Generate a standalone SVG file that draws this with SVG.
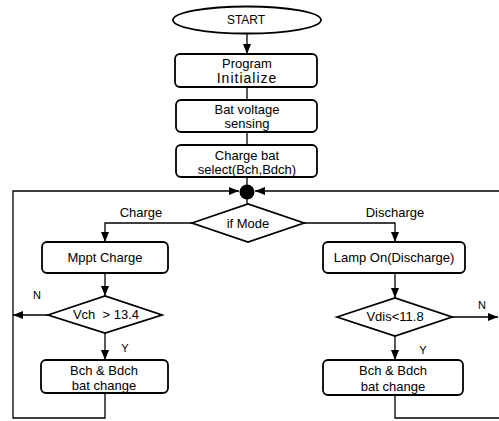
<svg xmlns="http://www.w3.org/2000/svg" width="499" height="421" viewBox="0 0 499 421">
<defs>
<marker id="arr" markerUnits="userSpaceOnUse" markerWidth="10" markerHeight="10" viewBox="0 0 10 10" refX="10" refY="5" orient="auto">
<path d="M0,1 L10,5 L0,9 Z" fill="#000"/>
</marker>
</defs>
<style>
.shape{fill:#fff;stroke:#000;stroke-width:1.8}
.ln{fill:none;stroke:#000;stroke-width:1.3}
text{font-family:"Liberation Sans",Arial,sans-serif;font-size:13px;fill:#000;text-anchor:middle}
.big{font-size:14px;letter-spacing:1px}
.sm{font-size:12px}
.lbl{font-size:11px}
</style>
<rect width="499" height="421" fill="#fff"/>
<g id="connectors">
<line class="ln" x1="247" y1="34" x2="247" y2="54" marker-end="url(#arr)"/>
<line class="ln" x1="247" y1="87" x2="247" y2="100"/>
<line class="ln" x1="247" y1="132" x2="247" y2="145"/>
<line class="ln" x1="247" y1="177" x2="247" y2="204"/>
<path class="ln" d="M192,223 H105 V242" marker-end="url(#arr)"/>
<line class="ln" x1="105" y1="273" x2="105" y2="296" marker-end="url(#arr)"/>
<line class="ln" x1="105" y1="333" x2="105" y2="360" marker-end="url(#arr)"/>
<line class="ln" x1="48" y1="315" x2="13" y2="315" marker-end="url(#arr)"/>
<path class="ln" d="M105,393 V418 H13 V191 H239" marker-end="url(#arr)"/>
<path class="ln" d="M499,191 H255" marker-end="url(#arr)"/>
<path class="ln" d="M304,223 H395 V242" marker-end="url(#arr)"/>
<line class="ln" x1="395" y1="273" x2="395" y2="298" marker-end="url(#arr)"/>
<line class="ln" x1="395" y1="336" x2="395" y2="360" marker-end="url(#arr)"/>
<line class="ln" x1="452" y1="317" x2="498" y2="317" marker-end="url(#arr)"/>
<path class="ln" d="M395,395 V418 H499"/>
<text x="141" y="217">Charge</text>
<text x="395" y="217">Discharge</text>
<text class="lbl" x="37" y="299">N</text>
<text class="lbl" x="125" y="352">Y</text>
<text class="lbl" x="482" y="309">N</text>
<text class="lbl" x="423" y="354">Y</text>
</g>
<g id="start">
<ellipse class="shape" cx="247" cy="20" rx="74" ry="13.5"/>
<text class="sm" x="246" y="24">START</text>
</g>
<g id="init">
<rect class="shape" x="175" y="54" width="142" height="33" rx="5"/>
<text x="247" y="68">Program</text>
<text class="big" x="247" y="83">Initialize</text>
</g>
<g id="sensing">
<rect class="shape" x="176" y="100" width="141" height="32" rx="5"/>
<text x="247" y="114">Bat voltage</text>
<text x="247" y="128">sensing</text>
</g>
<g id="select">
<rect class="shape" x="176" y="145" width="141" height="32" rx="5"/>
<text x="247" y="160">Charge bat</text>
<text x="247" y="174">select(Bch,Bdch)</text>
</g>
<g id="junction">
<circle cx="247" cy="192" r="7.5" fill="#000"/>
</g>
<g id="mode">
<polygon class="shape" points="192,223 248,204 304,223 248,242"/>
<text x="248" y="228">if Mode</text>
</g>
<g id="mppt">
<rect class="shape" x="42" y="242" width="126" height="31" rx="5"/>
<text x="105" y="262">Mppt Charge</text>
</g>
<g id="vch">
<polygon class="shape" points="48,315 105,296 162,315 105,333"/>
<text x="106" y="319">Vch &#160;&gt; 13.4</text>
</g>
<g id="bch1">
<rect class="shape" x="41" y="360" width="127" height="33" rx="5"/>
<text x="104" y="375">Bch &amp; Bdch</text>
<text x="104" y="390">bat change</text>
</g>
<g id="lamp">
<rect class="shape" x="323" y="242" width="142" height="31" rx="5"/>
<text x="394" y="262">Lamp On(Discharge)</text>
</g>
<g id="vdis">
<polygon class="shape" points="337,317 395,298 452,317 395,336"/>
<text x="395" y="321">Vdis&lt;11.8</text>
</g>
<g id="bch2">
<rect class="shape" x="323" y="360" width="140" height="35" rx="5"/>
<text x="393" y="375">Bch &amp; Bdch</text>
<text x="393" y="391">bat change</text>
</g>
</svg>
